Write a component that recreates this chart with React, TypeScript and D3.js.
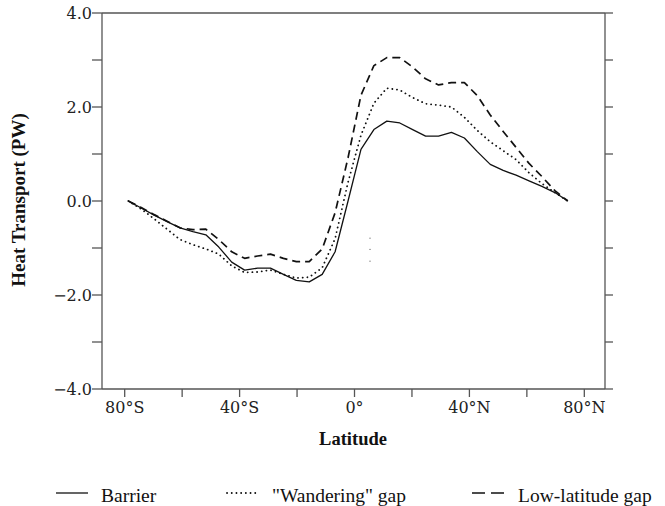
import React from 'react';
import * as d3 from 'd3';

const latitudes = [-78.75, -74.25, -69.75, -65.25, -60.75, -56.25, -51.75, -47.25, -42.75, -38.25, -33.75, -29.25, -24.75, -20.25, -15.75, -11.25, -6.75, -2.25, 2.25, 6.75, 11.25, 15.75, 20.25, 24.75, 29.25, 33.75, 38.25, 42.75, 47.25, 51.75, 56.25, 60.75, 65.25, 69.75, 74.25];
const barrier = [0, -0.15, -0.30, -0.44, -0.57, -0.65, -0.72, -0.98, -1.30, -1.47, -1.43, -1.43, -1.56, -1.69, -1.72, -1.56, -1.08, 0.0, 1.10, 1.52, 1.70, 1.66, 1.52, 1.38, 1.38, 1.46, 1.34, 1.05, 0.78, 0.65, 0.55, 0.43, 0.31, 0.18, 0];
const wandering = [0, -0.17, -0.38, -0.60, -0.82, -0.93, -1.02, -1.13, -1.38, -1.52, -1.51, -1.47, -1.56, -1.64, -1.62, -1.42, -0.80, 0.40, 1.40, 2.08, 2.40, 2.36, 2.20, 2.07, 2.04, 2.00, 1.78, 1.50, 1.26, 1.07, 0.88, 0.60, 0.37, 0.18, 0];
const lowLatitude = [0, -0.14, -0.29, -0.43, -0.57, -0.61, -0.60, -0.82, -1.08, -1.22, -1.17, -1.13, -1.22, -1.29, -1.29, -1.02, -0.25, 0.92, 2.25, 2.88, 3.05, 3.05, 2.85, 2.60, 2.47, 2.52, 2.52, 2.24, 1.83, 1.48, 1.14, 0.80, 0.52, 0.22, 0];

const strayLat = [5.4, 5.4, 5.4];
const strayVals = [-0.79, -1.03, -1.28];

const yMajorTicks = [-4, -2, 0, 2, 4];
const yMinorTicks = [-3, -1, 1, 3];
const xMajorTicks = [-80, -40, 0, 40, 80];
const xMajorLabels = ['80°S', '40°S', '0°', '40°N', '80°N'];
const xMinorTicks = [-60, -20, 20, 60];

const seriesNames = ['Barrier', '"Wandering" gap', 'Low-latitude gap'];

const W = 665, H = 506;
const left = 102, right = 605, top = 13, bottom = 389;

export default function App() {
  const x = d3.scaleLinear().domain([-87.9, 87.2]).range([left, right]);
  const y = d3.scaleLinear().domain([-4, 4]).range([bottom, top]);
  const line = d3.line<number>().x((_, i) => x(latitudes[i])).y((d) => y(d));

  const axisColor = '#555';
  const tickLen = 8;
  const fmt = (v: number) => (v < 0 ? '\u2212' : '') + Math.abs(v).toFixed(1);

  const series = [
    { name: seriesNames[0], data: barrier, dash: undefined as string | undefined, width: 1.3, legendDash: undefined as string | undefined, cap: 'butt' },
    { name: seriesNames[1], data: wandering, dash: '0.1,4.6', width: 1.8, legendDash: '0.1,4.6', cap: 'round' },
    { name: seriesNames[2], data: lowLatitude, dash: '8,5', width: 1.7, legendDash: '13,6', cap: 'butt' },
  ];
  const legendX = [56, 227, 472];
  const legendTextX = [101, 272, 518];

  return (
    <div style={{ position: 'absolute', left: 0, top: 0 }}>
      <svg width={W} height={H} style={{ display: 'block', background: '#fff' }}>
        {/* frame */}
        <line x1={left} y1={top} x2={right} y2={top} stroke={axisColor} strokeWidth={1.3} />
        <line x1={left} y1={top} x2={left} y2={bottom} stroke={axisColor} strokeWidth={1.3} />
        <line x1={right} y1={top} x2={right} y2={bottom} stroke={axisColor} strokeWidth={1.3} />
        <line x1={left} y1={bottom} x2={right} y2={bottom} stroke={axisColor} strokeWidth={1.3} />

        {/* y ticks */}
        {[...yMajorTicks, ...yMinorTicks].map((t) => (
          <g key={'yt' + t}>
            <line x1={left - tickLen - 2} x2={left} y1={y(t)} y2={y(t)} stroke={axisColor} strokeWidth={1.3} />
            <line x1={right} x2={right + tickLen} y1={y(t)} y2={y(t)} stroke={axisColor} strokeWidth={1.3} />
          </g>
        ))}
        {yMajorTicks.map((t) => (
          <text key={'yl' + t} x={left - 10} y={y(t)} dy="0.36em" textAnchor="end"
            fontFamily="DejaVu Serif" fontSize={16} fill="#222">{fmt(t)}</text>
        ))}

        {/* x ticks */}
        {[...xMajorTicks, ...xMinorTicks].map((t) => (
          <line key={'xt' + t} x1={x(t)} x2={x(t)} y1={bottom} y2={bottom + tickLen} stroke={axisColor} strokeWidth={1.3} />
        ))}
        {xMajorTicks.map((t, i) => (
          <text key={'xl' + t} x={x(t)} y={413} textAnchor="middle"
            fontFamily="DejaVu Serif" fontSize={16} fill="#222">{xMajorLabels[i]}</text>
        ))}

        {/* axis titles */}
        <text x={353} y={445} textAnchor="middle" fontFamily="Liberation Serif" fontWeight="bold" fontSize={18.5} fill="#111">Latitude</text>
        <text transform="translate(25,200) rotate(-90)" textAnchor="middle" fontFamily="Liberation Serif" fontWeight="bold" fontSize={19} fill="#111">Heat Transport (PW)</text>

        {/* series */}
        {series.map((s) => (
          <path key={s.name} d={line(s.data) || ''} fill="none" stroke="#111" strokeWidth={s.width}
            strokeDasharray={s.dash} strokeLinecap={s.cap as any} strokeLinejoin="round" />
        ))}

        {/* stray dots */}
        {strayVals.map((v, i) => (
          <circle key={'st' + i} cx={x(strayLat[i])} cy={y(v)} r={0.7} fill="#777" />
        ))}

        {/* legend */}
        {series.map((s, i) => (
          <g key={'lg' + i}>
            <line x1={legendX[i]} x2={legendX[i] + 32} y1={493} y2={493} stroke="#111" strokeWidth={s.width}
              strokeDasharray={s.legendDash} strokeLinecap={s.cap as any} />
            <text x={legendTextX[i]} y={502} fontFamily="Liberation Serif" fontSize={19.5} fill="#111">{s.name}</text>
          </g>
        ))}
      </svg>
    </div>
  );
}
